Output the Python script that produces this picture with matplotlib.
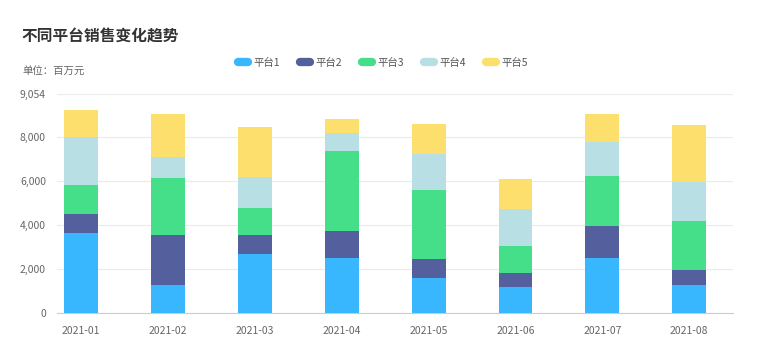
import matplotlib
matplotlib.use("Agg")
import matplotlib.pyplot as plt
from matplotlib.lines import Line2D
import numpy as np

plt.rcParams['font.family'] = ['Noto Sans CJK SC', 'DejaVu Sans']

months = ["2021-01", "2021-02", "2021-03", "2021-04", "2021-05", "2021-06", "2021-07", "2021-08"]
series_names = ["平台1", "平台2", "平台3", "平台4", "平台5"]
p1 = [3650, 1288, 2697, 2515, 1606, 1182, 2515, 1257]
p2 = [865, 2272, 863, 1227, 848, 651, 1454, 713]
p3 = [1318, 2591, 1227, 3636, 3152, 1227, 2273, 2227]
p4 = [2167, 970, 1409, 803, 1651, 1682, 1560, 1787]
p5 = [1242, 1939, 2273, 651, 1348, 1363, 1258, 2576]
colors = ["#38B7FE", "#545F9E", "#45DF89", "#B8E0E4", "#FCDF6C"]
y_ticks = [0, 2000, 4000, 6000, 8000, 10000]
y_labels = ["0", "2,000", "4,000", "6,000", "8,000", "9,054"]

fig = plt.figure(figsize=(7.64, 3.56), dpi=100)
ax = fig.add_axes([57 / 764, 1 - 313 / 356, 676 / 764, 219.5 / 356])

x = np.arange(len(months))
bottom = np.zeros(len(months))
for name, vals, c in zip(series_names, [p1, p2, p3, p4, p5], colors):
    ax.bar(x, vals, width=0.39, bottom=bottom, color=c, label=name, zorder=3)
    bottom += np.array(vals)

ax.set_xlim(-0.276, 7.503)
ax.set_ylim(0, 10000)
ax.set_yticks(y_ticks)
ax.set_yticklabels(y_labels)
ax.set_xticks(x)
ax.set_xticklabels(months)
ax.tick_params(axis="both", length=0, labelsize=7.5, colors="#666666")
ax.tick_params(axis="x", pad=9)
ax.tick_params(axis="y", pad=8)
ax.grid(axis="y", color="#EBEBEB", linewidth=0.8, zorder=0)
for s in ["top", "right", "left"]:
    ax.spines[s].set_visible(False)
ax.spines["bottom"].set_color("#CCCCCC")
ax.spines["bottom"].set_linewidth(0.8)

handles = [Line2D([0], [0], color=c, lw=6, solid_capstyle="round") for c in colors]
fig.legend(handles, series_names, loc="center", bbox_to_anchor=(383 / 764, 1 - 63 / 356),
           ncol=5, frameon=False, fontsize=7.5, handlelength=1.0, columnspacing=1.9,
           handletextpad=0.5, labelcolor="#555555")

fig.text(22 / 764, 1 - 37 / 356, "不同平台销售变化趋势", fontsize=11.3, fontweight="bold",
         color="#333333", va="center", ha="left")
fig.text(22 / 764, 1 - 72 / 356, "单位：百万元", fontsize=7.5, color="#666666", va="center", ha="left")

fig.savefig("out.png", dpi=100)
